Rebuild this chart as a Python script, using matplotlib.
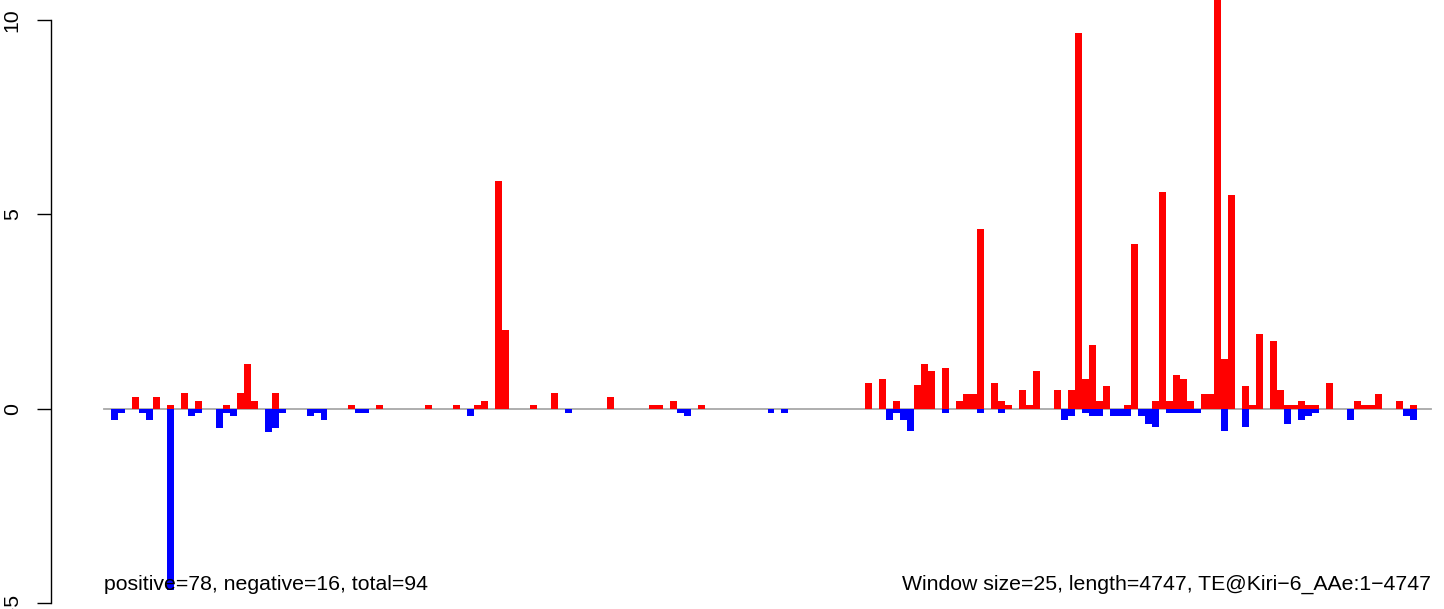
import matplotlib
matplotlib.use("Agg")
import matplotlib.pyplot as plt

plt.rcParams['font.family'] = ['Liberation Sans', 'DejaVu Sans']

n_windows = 190
pos_idx = [4, 7, 9, 11, 13, 17, 19, 20, 21, 24,
           35, 39, 46, 50, 53, 54, 56, 57, 61, 64,
           72, 78, 79, 81, 85,
           109, 111, 113, 116, 117, 118, 120, 122, 123, 124, 125, 127, 128, 129, 131, 132, 133,
           136, 138, 139, 140, 141, 142, 143, 146, 147, 150, 151, 152, 153, 154, 155, 157, 158, 159, 160, 161,
           163, 164, 165, 167, 168, 169, 170, 171, 172, 173, 175, 179, 180, 181, 182, 185, 187]
pos_val = [0.3, 0.3, 0.1, 0.4, 0.2, 0.1, 0.4, 1.15, 0.2, 0.4,
           0.1, 0.1, 0.1, 0.1, 0.1, 0.2, 5.87, 2.02, 0.1, 0.4,
           0.3, 0.1, 0.1, 0.2, 0.1,
           0.67, 0.77, 0.2, 0.6, 1.15, 0.98, 1.06, 0.2, 0.39, 0.39, 4.62, 0.67, 0.2, 0.1, 0.49, 0.1, 0.98,
           0.49, 0.49, 9.66, 0.77, 1.65, 0.2, 0.59, 0.1, 4.23, 0.2, 5.59, 0.2, 0.87, 0.77, 0.2, 0.39, 0.39, 11.0, 1.27, 5.49,
           0.59, 0.1, 1.93, 1.75, 0.49, 0.1, 0.1, 0.2, 0.1, 0.1, 0.67, 0.2, 0.1, 0.1, 0.39, 0.2, 0.1]
neg_idx = [1, 2, 5, 6, 9, 12, 13, 16, 17, 18, 23, 24, 25, 29, 30, 31,
           36, 37, 52, 66, 82, 83, 95, 97,
           112, 113, 114, 115, 120, 125, 128,
           137, 138, 140, 141, 142, 144, 145, 146, 148, 149, 150, 152, 153, 154, 155, 156, 160,
           163, 169, 171, 172, 173, 178, 186, 187]
neg_val = [-0.3, -0.1, -0.1, -0.3, -4.66, -0.2, -0.1, -0.5, -0.1, -0.2, -0.6, -0.5, -0.1, -0.2, -0.1, -0.3,
           -0.1, -0.1, -0.2, -0.1, -0.1, -0.2, -0.1, -0.1,
           -0.3, -0.1, -0.3, -0.58, -0.1, -0.1, -0.1,
           -0.3, -0.2, -0.1, -0.2, -0.2, -0.2, -0.2, -0.2, -0.2, -0.4, -0.48, -0.1, -0.1, -0.1, -0.1, -0.1, -0.58,
           -0.48, -0.4, -0.3, -0.2, -0.1, -0.3, -0.2, -0.3]
y_ticks = [-5, 0, 5, 10]
left_text = "positive=78, negative=16, total=94"
right_text = "Window size=25, length=4747, TE@Kiri\u22126_AAe:1\u22124747"

W, H = 1444, 609
fig = plt.figure(figsize=(W / 100, H / 100), dpi=100)
ax = fig.add_axes([0, 0, 1, 1])

px_per_bar = 1327 / n_windows
x0_px = 104
px_per_unit = 38.85
y0_px = 408.7
ax.set_xlim(-x0_px / px_per_bar, (W - x0_px) / px_per_bar)
ax.set_ylim(-(H - y0_px) / px_per_unit, y0_px / px_per_unit)

ax.plot([0, n_windows], [0, 0], color='#a8a8a8', lw=1.3, zorder=1)
ax.bar(pos_idx, pos_val, width=1.0, align='edge', color='#ff0000', linewidth=0, zorder=2)
ax.bar(neg_idx, neg_val, width=1.0, align='edge', color='#0000ff', linewidth=0, zorder=2)

for s in ['top', 'right', 'bottom']:
    ax.spines[s].set_visible(False)
ax.spines['left'].set_position(('data', (51 - x0_px) / px_per_bar))
ax.spines['left'].set_bounds(-5, 10)
ax.spines['left'].set_linewidth(1.0)
ax.xaxis.set_visible(False)
ax.set_yticks(y_ticks)
ax.set_yticklabels([str(t) for t in y_ticks], rotation=90, va='center', fontsize=15.3)
ax.tick_params(axis='y', length=10, width=1.0, pad=11, direction='out')
ax.patch.set_alpha(0)

text_y = -(590 - y0_px) / px_per_unit
ax.text(0, text_y, left_text, ha='left', va='baseline', fontsize=15.3)
ax.text(n_windows, text_y, right_text, ha='right', va='baseline', fontsize=15.3)

fig.savefig('out.png', dpi=100)
